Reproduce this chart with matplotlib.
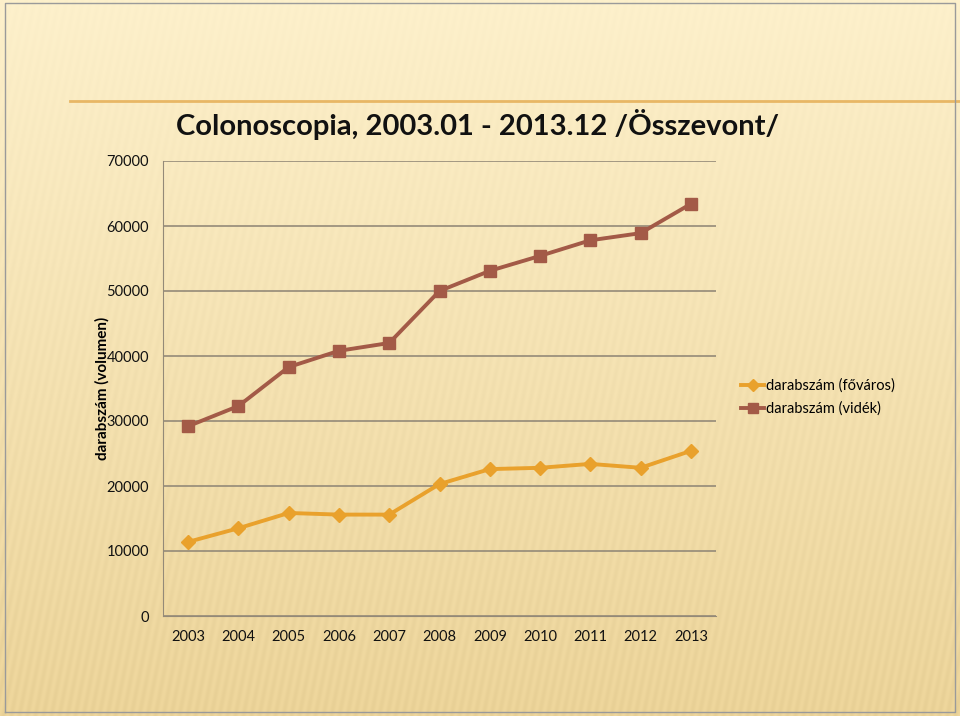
import numpy as np
import matplotlib.pyplot as plt
from matplotlib.lines import Line2D

# data
years = [2003, 2004, 2005, 2006, 2007, 2008, 2009, 2010, 2011, 2012, 2013]
fovaros = [11400, 13500, 15850, 15600, 15600, 20300, 22600, 22800, 23400, 22800, 25400]
videk = [29200, 32300, 38300, 40800, 42000, 50000, 53100, 55400, 57800, 58900, 63400]
yticks = [0, 10000, 20000, 30000, 40000, 50000, 60000, 70000]

c_fov = '#E9A12C'
c_vid = '#A35A47'

fig = plt.figure(figsize=(9.6, 7.16), dpi=100)
fig.patch.set_facecolor('#f7e6b5')

# background: cream gradient with faint stripes
bg = fig.add_axes([0, 0, 1, 1], zorder=-10)
yy, xx = np.mgrid[0:716, 0:960]
base = yy / 716.0
stripes = 0.5 + 0.5 * np.sin((xx + 0.2 * yy) * 2 * np.pi / 8.0)
top = np.array([0.995, 0.945, 0.80])
bot = np.array([0.935, 0.84, 0.61])
img = top[None, None, :] * (1 - base[..., None]) + bot[None, None, :] * base[..., None]
img = img - 0.02 * stripes[..., None] * (0.3 + base[..., None])
bg.imshow(np.clip(img, 0, 1), aspect='auto', extent=[0, 960, 716, 0])
bg.plot([70, 960], [101, 101], color='#e8b765', lw=2)
bg.plot([5, 5, 955, 955, 5], [712, 3, 3, 712, 712], color='#9a9a9a', lw=1)
bg.set_xlim(0, 960)
bg.set_ylim(716, 0)
bg.axis('off')

ax = fig.add_axes([163/960, 100/716, 553/960, 455/716])
ax.set_facecolor('none')
ax.plot(years, fovaros, color=c_fov, lw=2.8, marker='D', ms=7, label='darabszám (főváros)')
ax.plot(years, videk, color=c_vid, lw=2.8, marker='s', ms=8, label='darabszám (vidék)')

ax.set_xlim(2002.5, 2013.5)
ax.set_ylim(0, 70000)
ax.set_xticks(years)
ax.set_yticks(yticks)
ax.set_yticklabels([str(v) for v in yticks])
ax.grid(axis='y', color='#948a78', lw=1.2)
ax.set_axisbelow(True)
for s in ['top', 'right']:
    ax.spines[s].set_visible(False)
ax.spines['left'].set_color('#948a78')
ax.spines['bottom'].set_color('#948a78')
ax.tick_params(length=0, labelsize=10.5, colors='#111111')
ax.tick_params(axis='x', pad=10)
ax.tick_params(axis='y', pad=10)
for t in ax.get_xticklabels() + ax.get_yticklabels():
    t.set_family('Lato')

ax.set_ylabel('darabszám (volumen)', fontsize=11, fontweight='bold', family='Lato', labelpad=-2)

fig.text(478/960, 1 - 125/716, 'Colonoscopia, 2003.01 - 2013.12 /Összevont/', ha='center', va='center',
         fontsize=21, fontweight='bold', family='Lato', color='#111111')

handles = [Line2D([], [], color=c_fov, lw=2.8, marker='D', ms=6),
           Line2D([], [], color=c_vid, lw=2.8, marker='s', ms=7)]
leg = fig.legend(handles, ['darabszám (főváros)', 'darabszám (vidék)'], loc='center left',
                 bbox_to_anchor=(728/960, 1 - 397/716), frameon=False, handlelength=1.6,
                 handletextpad=0.1, labelspacing=0.6, prop={'family': 'Lato', 'size': 10.5})

fig.savefig('out.png', dpi=100)
